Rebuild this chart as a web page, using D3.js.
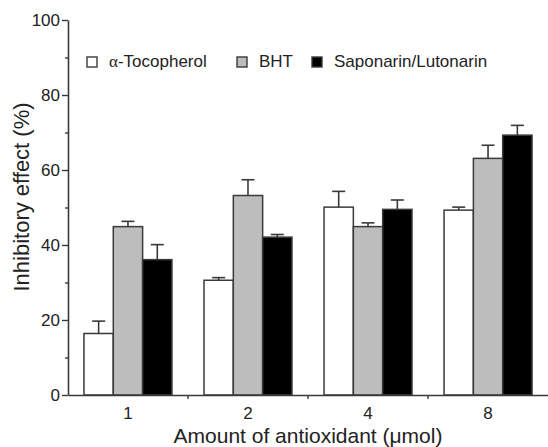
<!DOCTYPE html>
<html>
<head>
<meta charset="utf-8">
<script src="https://cdn.jsdelivr.net/npm/d3@7"></script>
<style>
  body { margin: 0; background: #fff; }
  svg { display: block; font-family: "Liberation Sans", Arial, sans-serif; }
</style>
</head>
<body>
<svg id="chart"></svg>
<script>
// data
const amounts = ["1", "2", "4", "8"];
const seriesNames = ["-Tocopherol", "BHT", "Saponarin/Lutonarin"];
const tocopherol = [16.4, 30.6, 50.1, 49.3];
const tocopherolErr = [3.3, 0.7, 4.2, 0.8];
const bht = [44.9, 53.2, 44.9, 63.1];
const bhtErr = [1.4, 4.2, 1.0, 3.5];
const saponarin = [36.1, 42.1, 49.5, 69.3];
const saponarinErr = [4.0, 0.7, 2.5, 2.6];
const yTicks = [0, 20, 40, 60, 80, 100];
const yMinorTicks = [10, 30, 50, 70, 90];

const width = 548, height = 447;
const fills = ["#ffffff", "#bdbdbd", "#000000"];
const ink = "#3a3a3a";

const svg = d3.select("#chart").attr("width", width).attr("height", height);

const x = d3.scaleBand().domain(amounts).range([68, 548])
  .paddingInner(0.267).paddingOuter(0.133);
const xs = d3.scaleBand().domain(d3.range(3)).range([0, x.bandwidth()]);
const y = d3.scaleLinear().domain([0, 100]).range([395, 20]);

const values = [tocopherol, bht, saponarin];
const errors = [tocopherolErr, bhtErr, saponarinErr];
const rows = [];
amounts.forEach((a, i) => {
  values.forEach((s, k) => rows.push({ a, k, v: s[i], e: errors[k][i] }));
});

// error bars (upper half only)
const eb = svg.append("g").selectAll("g").data(rows).join("g")
  .attr("transform", d => `translate(${x(d.a) + xs(d.k) + xs.bandwidth() / 2},0)`);
eb.append("line")
  .attr("y1", d => y(d.v)).attr("y2", d => y(d.v + d.e))
  .attr("stroke", ink).attr("stroke-width", 1.6);
eb.append("line")
  .attr("x1", -6.5).attr("x2", 6.5)
  .attr("y1", d => y(d.v + d.e)).attr("y2", d => y(d.v + d.e))
  .attr("stroke", ink).attr("stroke-width", 1.6);

// bars
svg.append("g").selectAll("rect").data(rows).join("rect")
  .attr("x", d => x(d.a) + xs(d.k))
  .attr("y", d => y(d.v))
  .attr("width", xs.bandwidth())
  .attr("height", d => y(0) - y(d.v))
  .attr("fill", d => fills[d.k])
  .attr("stroke", ink)
  .attr("stroke-width", 1.5);

// y axis
svg.append("g").attr("transform", "translate(68,0)")
  .call(d3.axisLeft(y).tickValues(yTicks).tickSize(6).tickPadding(2).tickSizeOuter(0));
svg.append("g").attr("transform", "translate(68,0)")
  .call(d3.axisLeft(y).tickValues(yMinorTicks).tickSize(3).tickFormat("").tickSizeOuter(0))
  .call(g => g.select(".domain").remove());

// x axis: labels at group centres, ticks at group boundaries
svg.append("g").attr("transform", "translate(0,395)")
  .call(d3.axisBottom(x).tickSize(0).tickPadding(12).tickSizeOuter(0));
const bounds = amounts.slice(1).map(a => x(a) - x.step() * x.paddingInner() / 2);
svg.append("g").selectAll("line").data(bounds).join("line")
  .attr("x1", d => d).attr("x2", d => d)
  .attr("y1", 395).attr("y2", 399)
  .attr("stroke", ink).attr("stroke-width", 1.4);

svg.selectAll(".domain").attr("stroke", ink).attr("stroke-width", 1.6);
svg.selectAll(".tick line").attr("stroke", ink).attr("stroke-width", 1.4);
svg.selectAll(".tick text")
  .attr("font-family", "Liberation Sans, Arial, sans-serif")
  .attr("font-size", 17).attr("fill", "#222");

// axis titles
svg.append("text")
  .attr("transform", "translate(29,197) rotate(-90)")
  .attr("text-anchor", "middle")
  .attr("font-size", 22).attr("fill", "#222")
  .text("Inhibitory effect (%)");
svg.append("text")
  .attr("x", 308).attr("y", 443)
  .attr("text-anchor", "middle")
  .attr("font-size", 21).attr("fill", "#222")
  .text("Amount of antioxidant (μmol)");

// legend
const legendX = [87, 237, 312];
const lg = svg.append("g").selectAll("g").data(seriesNames).join("g")
  .attr("transform", (d, i) => `translate(${legendX[i]},57)`);
lg.append("rect")
  .attr("width", 10).attr("height", 10)
  .attr("fill", (d, i) => fills[i])
  .attr("stroke", ink).attr("stroke-width", 1.4);
const lt = lg.append("text")
  .attr("x", 22).attr("y", 10)
  .attr("font-size", 17).attr("fill", "#222");
lt.filter((d, i) => i === 0).append("tspan")
  .attr("font-family", "Liberation Serif, serif")
  .text("α");
lt.append("tspan").text(d => d);
</script>
</body>
</html>
